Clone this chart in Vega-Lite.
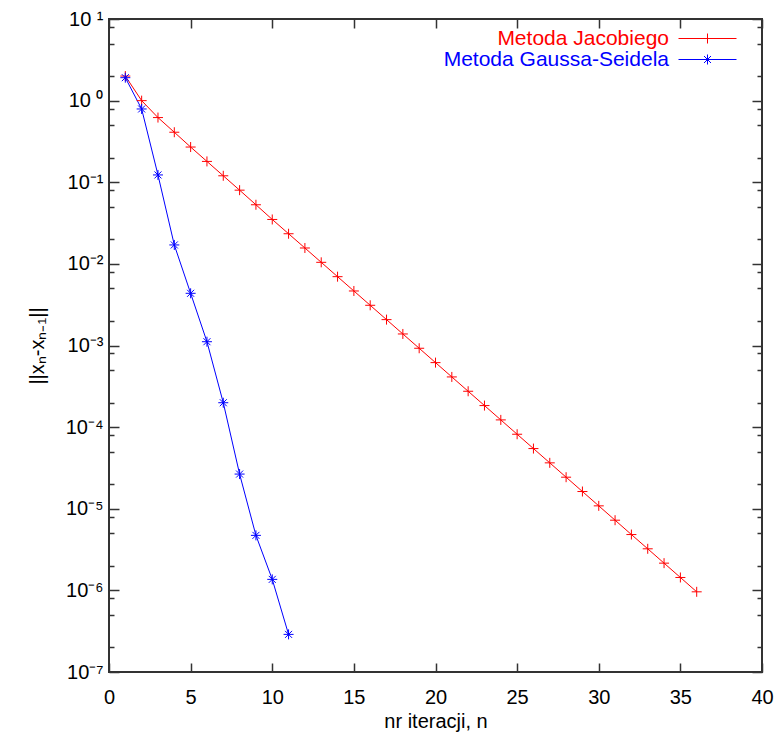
{
  "$schema": "https://vega.github.io/schema/vega-lite/v6.json",
  "autosize": {"type": "none"},
  "padding": {"left": 109, "top": 19, "right": 17, "bottom": 65},
  "width": 653,
  "height": 653,
  "background": "white",
  "config": {
    "view": {"stroke": "#333333", "strokeWidth": 2},
    "font": "Liberation Sans",
    "axis": {
      "domain": false,
      "grid": false,
      "tickColor": "#333333",
      "tickWidth": 1.5,
      "labelFont": "Liberation Sans",
      "labelFontSize": 20,
      "labelColor": "#000000",
      "titleFont": "Liberation Sans",
      "titleFontSize": 20,
      "titleFontWeight": "normal",
      "titleColor": "#000000"
    }
  },
  "data": {
    "values": [
      {"n": 1, "v": 2.0, "s": "Metoda Jacobiego"},
      {"n": 2, "v": 1.0, "s": "Metoda Jacobiego"},
      {"n": 3, "v": 0.62, "s": "Metoda Jacobiego"},
      {"n": 4, "v": 0.41, "s": "Metoda Jacobiego"},
      {"n": 5, "v": 0.27, "s": "Metoda Jacobiego"},
      {"n": 6, "v": 0.18, "s": "Metoda Jacobiego"},
      {"n": 7, "v": 0.12, "s": "Metoda Jacobiego"},
      {"n": 8, "v": 0.08, "s": "Metoda Jacobiego"},
      {"n": 9, "v": 0.053, "s": "Metoda Jacobiego"},
      {"n": 10, "v": 0.035, "s": "Metoda Jacobiego"},
      {"n": 11, "v": 0.0234, "s": "Metoda Jacobiego"},
      {"n": 12, "v": 0.01565, "s": "Metoda Jacobiego"},
      {"n": 13, "v": 0.01045, "s": "Metoda Jacobiego"},
      {"n": 14, "v": 0.00697, "s": "Metoda Jacobiego"},
      {"n": 15, "v": 0.004656, "s": "Metoda Jacobiego"},
      {"n": 16, "v": 0.003109, "s": "Metoda Jacobiego"},
      {"n": 17, "v": 0.002075, "s": "Metoda Jacobiego"},
      {"n": 18, "v": 0.001385, "s": "Metoda Jacobiego"},
      {"n": 19, "v": 0.000925, "s": "Metoda Jacobiego"},
      {"n": 20, "v": 0.000617, "s": "Metoda Jacobiego"},
      {"n": 21, "v": 0.000412, "s": "Metoda Jacobiego"},
      {"n": 22, "v": 0.000275, "s": "Metoda Jacobiego"},
      {"n": 23, "v": 0.0001837, "s": "Metoda Jacobiego"},
      {"n": 24, "v": 0.0001226, "s": "Metoda Jacobiego"},
      {"n": 25, "v": 0.0000818, "s": "Metoda Jacobiego"},
      {"n": 26, "v": 0.0000546, "s": "Metoda Jacobiego"},
      {"n": 27, "v": 0.0000365, "s": "Metoda Jacobiego"},
      {"n": 28, "v": 0.00002435, "s": "Metoda Jacobiego"},
      {"n": 29, "v": 0.00001626, "s": "Metoda Jacobiego"},
      {"n": 30, "v": 0.00001085, "s": "Metoda Jacobiego"},
      {"n": 31, "v": 0.00000724, "s": "Metoda Jacobiego"},
      {"n": 32, "v": 0.00000483, "s": "Metoda Jacobiego"},
      {"n": 33, "v": 0.00000323, "s": "Metoda Jacobiego"},
      {"n": 34, "v": 0.000002156, "s": "Metoda Jacobiego"},
      {"n": 35, "v": 0.000001439, "s": "Metoda Jacobiego"},
      {"n": 36, "v": 0.00000096, "s": "Metoda Jacobiego"},
      {"n": 1, "v": 1.91, "s": "Metoda Gaussa-Seidela"},
      {"n": 2, "v": 0.79, "s": "Metoda Gaussa-Seidela"},
      {"n": 3, "v": 0.1229, "s": "Metoda Gaussa-Seidela"},
      {"n": 4, "v": 0.01706, "s": "Metoda Gaussa-Seidela"},
      {"n": 5, "v": 0.00436, "s": "Metoda Gaussa-Seidela"},
      {"n": 6, "v": 0.001113, "s": "Metoda Gaussa-Seidela"},
      {"n": 7, "v": 0.000199, "s": "Metoda Gaussa-Seidela"},
      {"n": 8, "v": 0.0000266, "s": "Metoda Gaussa-Seidela"},
      {"n": 9, "v": 0.00000472, "s": "Metoda Gaussa-Seidela"},
      {"n": 10, "v": 0.000001364, "s": "Metoda Gaussa-Seidela"},
      {"n": 11, "v": 0.000000289, "s": "Metoda Gaussa-Seidela"}
    ]
  },
  "layer": [
    {
      "mark": {"type": "line", "strokeWidth": 1},
      "encoding": {
        "x": {
          "field": "n", "type": "quantitative",
          "scale": {"domain": [0, 40], "nice": false, "zero": false},
          "axis": {
            "orient": "bottom",
            "values": [0, 5, 10, 15, 20, 25, 30, 35, 40],
            "tickSize": -9,
            "labelPadding": 24,
            "labelFlush": false,
            "title": "nr iteracji, n",
            "titlePadding": 4
          }
        },
        "y": {
          "field": "v", "type": "quantitative",
          "scale": {"type": "log", "domain": [1e-7, 10], "nice": false},
          "axis": {
            "orient": "left",
            "values": [1e-7, 2e-7, 5e-7, 8e-7, 1e-6, 2e-6, 5e-6, 8e-6, 1e-5, 2e-5, 5e-5, 8e-5, 1e-4, 2e-4, 5e-4, 8e-4, 1e-3, 2e-3, 5e-3, 8e-3, 1e-2, 2e-2, 5e-2, 8e-2, 0.1, 0.2, 0.5, 0.8, 1, 2, 5, 8, 10],
            "tickSize": {"condition": {"test": "abs(log(datum.value)/LN10 - round(log(datum.value)/LN10)) < 0.001", "value": -10}, "value": -5},
            "labelPadding": 16,
            "labelFlush": false,
            "labelExpr": "abs(log(datum.value)/LN10 - round(log(datum.value)/LN10)) < 0.001 ? '10' + ['⁻⁷','⁻⁶','⁻⁵','⁻⁴','⁻³','⁻²','⁻¹',' ⁰',' ¹'][round(log(datum.value)/LN10) + 7] : ''",
            "title": "||xₙ-xₙ₋₁||",
            "titlePadding": 18
          }
        },
        "color": {
          "field": "s", "type": "nominal",
          "scale": {"domain": ["Metoda Jacobiego", "Metoda Gaussa-Seidela"], "range": ["#ff0000", "#0000ff"]},
          "legend": {
            "orient": "none",
            "legendX": 588,
            "legendY": 9,
            "padding": 0,
            "title": null,
            "labelAlign": "right",
            "labelOffset": -49,
            "labelFont": "Liberation Sans",
            "labelFontSize": 21,
            "labelLimit": 400,
            "symbolSize": 400,
            "symbolStrokeWidth": 1,
            "rowPadding": -2,
            "encode": {
              "symbols": {
                "update": {
                  "shape": {"signal": "datum.value == 'Metoda Jacobiego' ? 'M-2.9,0L2.9,0M0,-0.5L0,0.5' : 'M-2.9,0L2.9,0M0,-0.5L0,0.5M-0.35,-0.35L0.35,0.35M-0.35,0.35L0.35,-0.35'"},
                  "fill": {"value": "transparent"},
                  "strokeWidth": {"value": 1},
                  "opacity": {"value": 1}
                }
              },
              "labels": {
                "update": {
                  "fill": {"signal": "datum.value == 'Metoda Jacobiego' ? '#ff0000' : '#0000ff'"}
                }
              }
            }
          }
        },
        "detail": {"field": "s"}
      }
    },
    {
      "transform": [{"filter": "datum.s == 'Metoda Jacobiego'"}],
      "mark": {"type": "point", "filled": false, "size": 100, "strokeWidth": 1, "opacity": 1, "shape": "M-1,0L1,0M0,-1L0,1"},
      "encoding": {
        "x": {"field": "n", "type": "quantitative", "axis": null},
        "y": {"field": "v", "type": "quantitative", "axis": null},
        "color": {"field": "s", "type": "nominal"}
      }
    },
    {
      "transform": [{"filter": "datum.s == 'Metoda Gaussa-Seidela'"}],
      "mark": {"type": "point", "filled": false, "size": 100, "strokeWidth": 1, "opacity": 1, "shape": "M-1,0L1,0M0,-1L0,1M-0.7,-0.7L0.7,0.7M-0.7,0.7L0.7,-0.7"},
      "encoding": {
        "x": {
          "field": "n", "type": "quantitative",
          "axis": {
            "orient": "top",
            "values": [0, 5, 10, 15, 20, 25, 30, 35, 40],
            "tickSize": -9,
            "labels": false,
            "title": null
          }
        },
        "y": {
          "field": "v", "type": "quantitative",
          "axis": {
            "orient": "right",
            "values": [1e-7, 2e-7, 5e-7, 8e-7, 1e-6, 2e-6, 5e-6, 8e-6, 1e-5, 2e-5, 5e-5, 8e-5, 1e-4, 2e-4, 5e-4, 8e-4, 1e-3, 2e-3, 5e-3, 8e-3, 1e-2, 2e-2, 5e-2, 8e-2, 0.1, 0.2, 0.5, 0.8, 1, 2, 5, 8, 10],
            "tickSize": {"condition": {"test": "abs(log(datum.value)/LN10 - round(log(datum.value)/LN10)) < 0.001", "value": -10}, "value": -5},
            "labels": false,
            "title": null
          }
        },
        "color": {"field": "s", "type": "nominal"}
      }
    }
  ],
  "resolve": {"axis": {"x": "independent", "y": "independent"}}
}
